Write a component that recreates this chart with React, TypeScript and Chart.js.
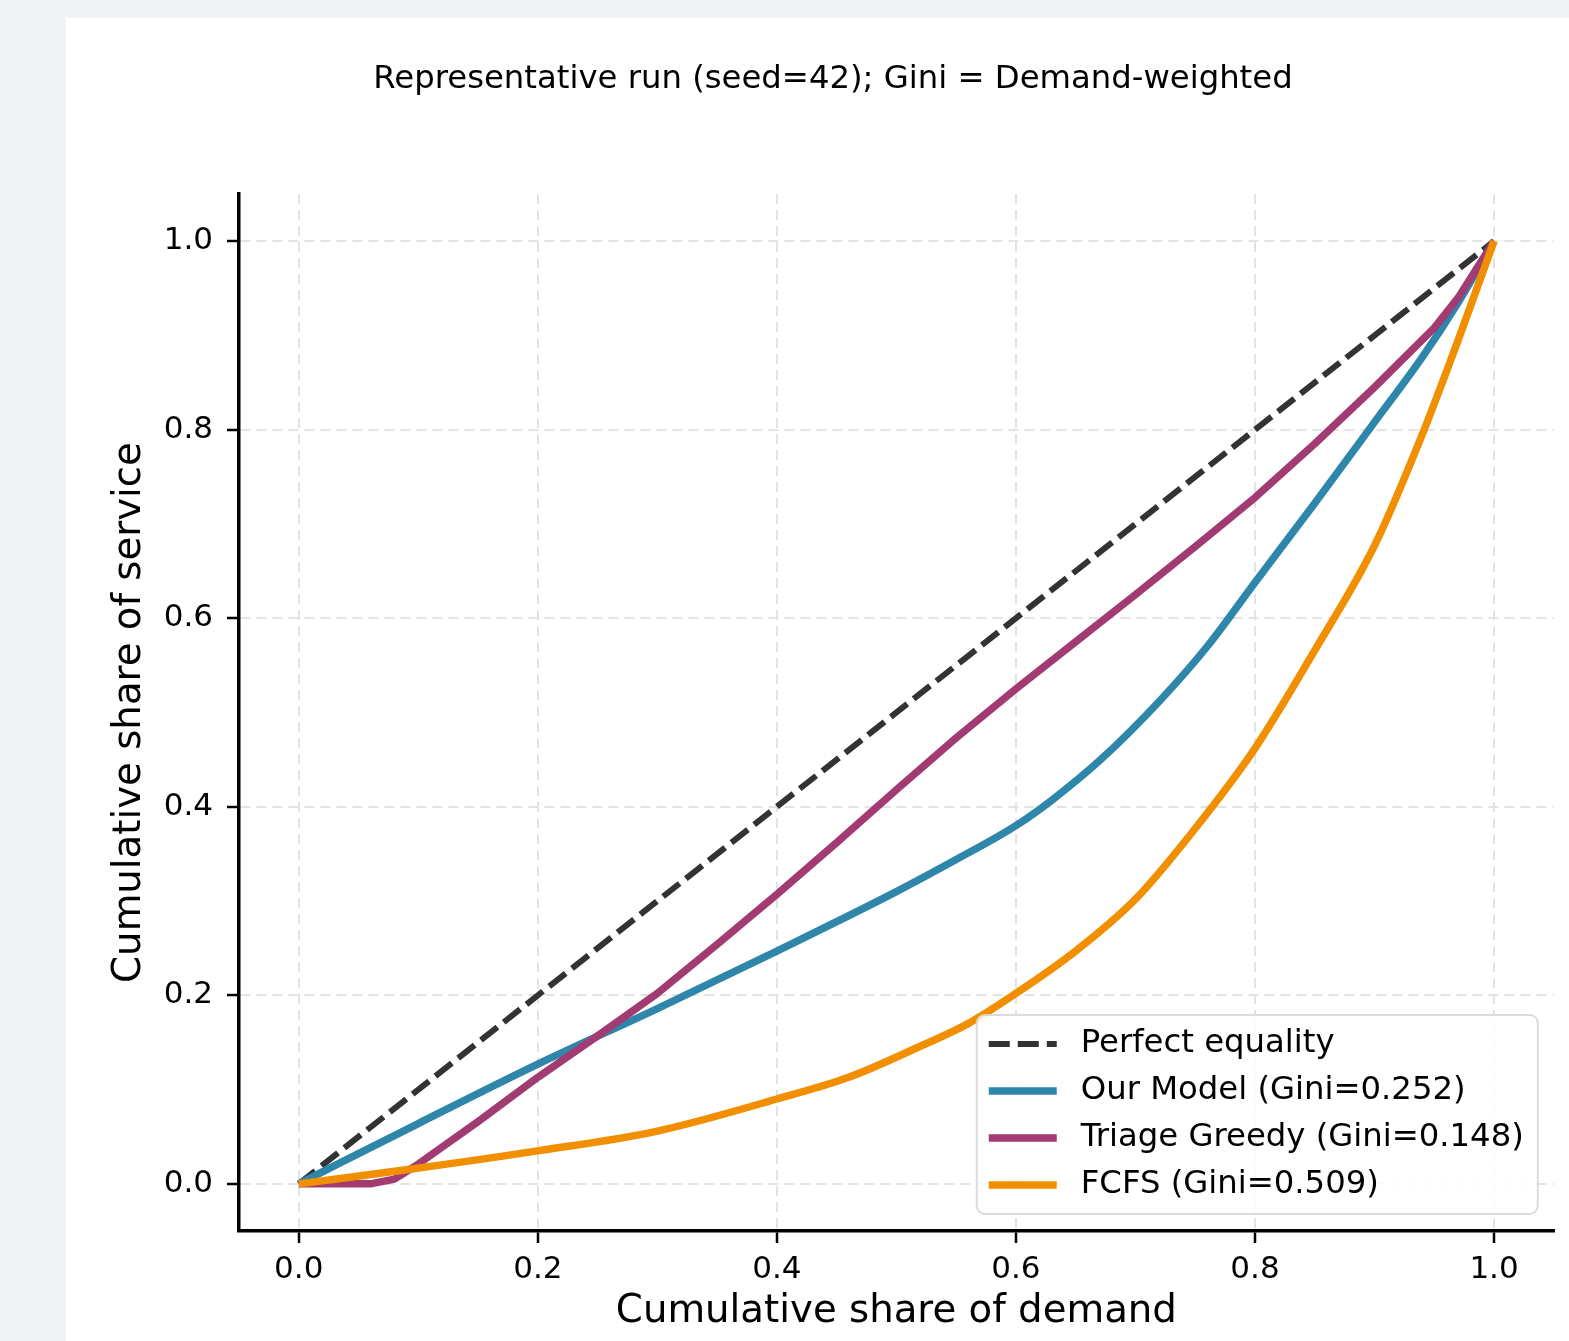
import React, { useEffect, useRef } from "react";
import { Chart, registerables } from "chart.js";

Chart.register(...registerables);

const titleText = "Representative run (seed=42); Gini = Demand-weighted";
const xAxisLabel = "Cumulative share of demand";
const yAxisLabel = "Cumulative share of service";
const tickValues = [0, 0.2, 0.4, 0.6, 0.8, 1.0];

const seriesLabels = [
  "Perfect equality",
  "Our Model (Gini=0.252)",
  "Triage Greedy (Gini=0.148)",
  "FCFS (Gini=0.509)",
];

const equalityX = [0, 1];
const equalityY = [0, 1];

const ourModelX = [0, 0.1, 0.2, 0.3, 0.4, 0.5, 0.55, 0.6, 0.63, 0.67, 0.72, 0.76, 0.8, 0.85, 0.9, 0.94, 0.97, 1.0];
const ourModelY = [0, 0.064, 0.127, 0.186, 0.247, 0.31, 0.344, 0.38, 0.407, 0.449, 0.512, 0.57, 0.638, 0.722, 0.808, 0.877, 0.935, 1.0];

const triageX = [0, 0.06, 0.08, 0.1, 0.15, 0.2, 0.25, 0.3, 0.35, 0.4, 0.45, 0.5, 0.55, 0.6, 0.65, 0.7, 0.75, 0.8, 0.85, 0.9, 0.95, 0.97, 1.0];
const triageY = [0, 0, 0.005, 0.021, 0.066, 0.113, 0.157, 0.202, 0.254, 0.307, 0.362, 0.418, 0.473, 0.525, 0.575, 0.625, 0.676, 0.728, 0.785, 0.845, 0.908, 0.94, 1.0];

const fcfsX = [0, 0.09, 0.2, 0.3, 0.4, 0.46, 0.52, 0.56, 0.6, 0.65, 0.7, 0.75, 0.8, 0.85, 0.9, 0.94, 0.97, 1.0];
const fcfsY = [0, 0.015, 0.035, 0.056, 0.09, 0.113, 0.146, 0.17, 0.202, 0.247, 0.302, 0.377, 0.462, 0.566, 0.677, 0.795, 0.895, 1.0];

const FONT = "'DejaVu Sans', 'Liberation Sans', sans-serif";

const zip = (xs: number[], ys: number[]) => xs.map((x, i) => ({ x, y: ys[i] }));

const titlePlugin = {
  id: "figTitle",
  afterDraw(chart: any) {
    const ctx = chart.ctx;
    ctx.save();
    ctx.font = `32.3px ${FONT}`;
    ctx.fillStyle = "#000";
    ctx.textAlign = "center";
    ctx.textBaseline = "middle";
    ctx.fillText(titleText, 767, 62);
    ctx.restore();
  },
};

const legendPlugin = {
  id: "innerLegend",
  afterDraw(chart: any) {
    const ctx = chart.ctx;
    const area = chart.chartArea;
    const datasets = chart.data.datasets;
    ctx.save();
    ctx.font = `32.3px ${FONT}`;
    let maxW = 0;
    datasets.forEach((d: any) => {
      maxW = Math.max(maxW, ctx.measureText(d.label).width);
    });
    const rowH = 47;
    const boxW = 104 + maxW + 14;
    const boxH = 28 * 2 + rowH * (datasets.length - 1) + 2;
    const right = area.right - 16;
    const bottom = area.bottom - 17;
    const left = right - boxW;
    const top = bottom - boxH;
    const r = 8;
    ctx.beginPath();
    ctx.moveTo(left + r, top);
    ctx.lineTo(right - r, top);
    ctx.arcTo(right, top, right, top + r, r);
    ctx.lineTo(right, bottom - r);
    ctx.arcTo(right, bottom, right - r, bottom, r);
    ctx.lineTo(left + r, bottom);
    ctx.arcTo(left, bottom, left, bottom - r, r);
    ctx.lineTo(left, top + r);
    ctx.arcTo(left, top, left + r, top, r);
    ctx.closePath();
    ctx.fillStyle = "rgba(255,255,255,0.85)";
    ctx.fill();
    ctx.lineWidth = 2;
    ctx.strokeStyle = "rgba(215,215,215,0.9)";
    ctx.stroke();

    datasets.forEach((d: any, i: number) => {
      const cy = top + 29 + i * rowH;
      ctx.beginPath();
      ctx.setLineDash(d.borderDash || []);
      ctx.lineCap = "butt";
      ctx.lineWidth = d.borderWidth;
      ctx.strokeStyle = d.borderColor;
      ctx.moveTo(left + 12, cy);
      ctx.lineTo(left + 80, cy);
      ctx.stroke();
      ctx.setLineDash([]);
      ctx.fillStyle = "#000";
      ctx.textAlign = "left";
      ctx.textBaseline = "middle";
      ctx.fillText(d.label, left + 104, cy);
    });
    ctx.restore();
  },
};

export default function App() {
  const canvasRef = useRef<HTMLCanvasElement | null>(null);

  useEffect(() => {
    const canvas = canvasRef.current;
    if (!canvas) return;

    const gridCommon = {
      color: "#e3e3e3",
      lineWidth: 2,
      drawTicks: true,
      tickLength: 12,
      tickColor: "#000",
      tickWidth: 2.5,
      tickBorderDash: [],
    };

    const chart = new Chart(canvas, {
      type: "line",
      data: {
        datasets: [
          {
            label: seriesLabels[0],
            data: zip(equalityX, equalityY),
            borderColor: "#333333",
            borderWidth: 6,
            borderDash: [21, 8],
            borderCapStyle: "butt",
            pointRadius: 0,
            tension: 0,
            order: 3,
          },
          {
            label: seriesLabels[1],
            data: zip(ourModelX, ourModelY),
            borderColor: "#2E86AB",
            borderWidth: 7.5,
            pointRadius: 0,
            cubicInterpolationMode: "monotone",
            borderJoinStyle: "round",
            order: 2,
          },
          {
            label: seriesLabels[2],
            data: zip(triageX, triageY),
            borderColor: "#A23B72",
            borderWidth: 7.5,
            pointRadius: 0,
            tension: 0,
            borderJoinStyle: "round",
            order: 1,
          },
          {
            label: seriesLabels[3],
            data: zip(fcfsX, fcfsY),
            borderColor: "#F18F01",
            borderWidth: 7.5,
            pointRadius: 0,
            cubicInterpolationMode: "monotone",
            borderJoinStyle: "round",
            order: 0,
          },
        ] as any,
      },
      options: {
        responsive: false,
        animation: false,
        devicePixelRatio: 1,
        layout: { padding: { top: 176, right: 15.2, left: 0, bottom: 0 } },
        plugins: {
          legend: { display: false },
          title: { display: false },
          tooltip: { enabled: false },
        },
        scales: {
          x: {
            type: "linear",
            min: -0.05,
            max: 1.05,
            afterBuildTicks: (scale: any) => {
              scale.ticks = tickValues.map((v) => ({ value: v }));
            },
            afterFit: (scale: any) => {
              scale.height = 110;
            },
            grid: gridCommon,
            border: { display: true, color: "#000", width: 3.5, dash: [10, 6] },
            ticks: {
              color: "#000",
              font: { family: FONT, size: 31 },
              padding: 8,
              maxRotation: 0,
              callback: (v: any) => Number(v).toFixed(1),
            },
            title: {
              display: true,
              text: xAxisLabel,
              color: "#000",
              font: { family: FONT, size: 38.7 },
              padding: { top: 0, bottom: 6 },
            },
          },
          y: {
            type: "linear",
            min: -0.05,
            max: 1.05,
            afterBuildTicks: (scale: any) => {
              scale.ticks = tickValues.map((v) => ({ value: v }));
            },
            afterFit: (scale: any) => {
              scale.width = 173;
            },
            grid: gridCommon,
            border: { display: true, color: "#000", width: 3.5, dash: [10, 6] },
            ticks: {
              color: "#000",
              font: { family: FONT, size: 31 },
              padding: 14,
              callback: (v: any) => Number(v).toFixed(1),
            },
            title: {
              display: true,
              text: yAxisLabel,
              color: "#000",
              font: { family: FONT, size: 38.7 },
              padding: { top: 41, bottom: 0 },
            },
          },
        },
      } as any,
      plugins: [titlePlugin, legendPlugin],
    });

    return () => {
      chart.destroy();
    };
  }, []);

  return (
    <div
      style={{
        position: "fixed",
        left: 0,
        top: 0,
        width: 1569,
        height: 1341,
        background: "#f0f2f6",
        overflow: "hidden",
      }}
    >
      <canvas
        ref={canvasRef}
        width={1503}
        height={1323}
        style={{
          position: "absolute",
          left: 66,
          top: 18,
          width: 1503,
          height: 1323,
          background: "#ffffff",
        }}
      />
    </div>
  );
}
